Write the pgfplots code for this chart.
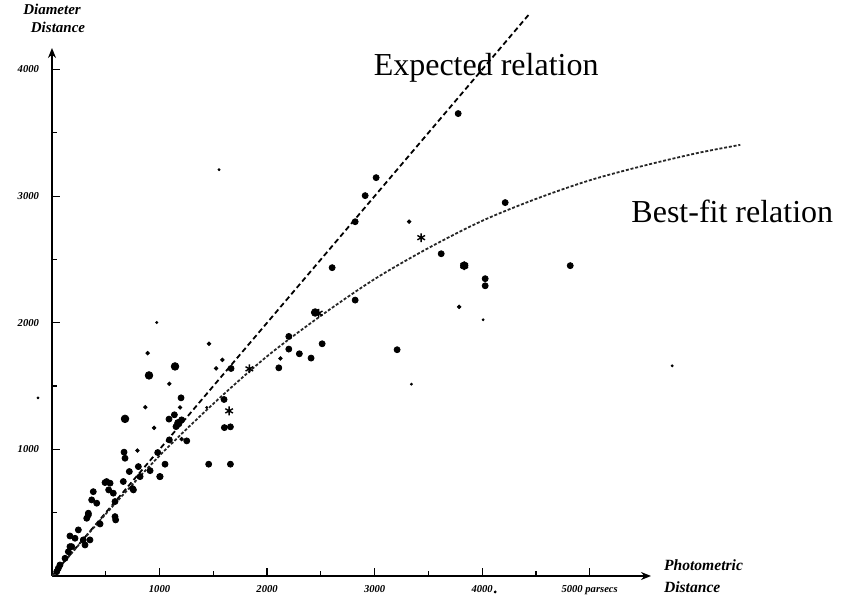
\documentclass[border=0pt]{standalone}
\usepackage{fontspec}
\setmainfont{Liberation Serif}
\usepackage{pgfplots}
\usepackage{pgfplotstable}
\pgfplotsset{compat=1.18}
\usetikzlibrary{arrows.meta,calc}

% photometric distance (x) vs diameter distance (y), parsecs
\pgfplotstableread{
x y
3833 2451
2447 2081
902 1584
1144 1655
679 1241
1175 1207
}\bigdots

\pgfplotstableread{
x y
3777 3652
3014 3146
2912 3004
2819 2798
2605 2435
4214 2949
3619 2545
4028 2348
4028 2292
4819 2451
3209 1787
2819 2179
2202 1892
2202 1792
2300 1755
2409 1721
2512 1834
2109 1644
1200 1407
1600 1394
1603 1172
1659 1178
1457 883
1659 883
1088 1239
1138 1273
1153 1180
1206 1233
1253 1067
1091 1075
983 975
1051 883
1002 785
912 832
670 978
679 930
719 825
750 690
803 864
819 785
493 738
540 733
527 680
570 654
663 746
384 666
369 601
416 575
586 588
586 469
592 443
447 411
338 496
323 456
245 364
167 316
214 298
291 285
353 285
307 245
167 232
44 34
59 61
508 746
338 482
152 192
183 232
121 140
74 87
757 680
1005 785
1665 1639
}\dots

\pgfplotstableread{
x y
3786 2126
1460 1834
890 1760
1584 1707
1526 1639
1091 1518
868 1333
949 1170
1191 1331
794 991
2124 1718
3321 2798
1206 1081
}\smalldots

\pgfplotstableread{
x y
974 2002
4009 2024
3342 1515
5767 1660
-130 1407
4121 -126
1553 3209
1439 1331
}\tinydots

\pgfplotstableread{
x y
3433 2672
1647 1304
1835 1636
2480 2075
3833 2451
}\stars

\pgfplotstableread{
x y
0 0
500 490
1000 950
1500 1360
2000 1735
2500 2055
3000 2345
3500 2590
4000 2805
4500 2978
5000 3125
5500 3240
6000 3340
6400 3405
}\bestfit

\begin{document}
\begin{tikzpicture}
\begin{axis}[
    scale only axis,
    width=299.5pt, height=264pt,
    xmin=0, xmax=5570, ymin=0, ymax=4170,
    axis lines=left,
    axis line style={line width=0.8pt, -{Stealth[length=5pt,width=4pt]}},
    clip=false,
    scaled ticks=false,
    xtick={1000,2000,3000,4000,5000},
    xticklabels={1000,2000,3000,4000,5000 parsecs},
    ytick={1000,2000,3000,4000},
    yticklabels={1000,2000,3000,4000},
    minor xtick={500,1500,2500,3500,4500},
    minor ytick={500,1500,2500,3500},
    tick align=inside,
    major tick length=4pt, minor tick length=2.5pt,
    every tick/.style={black, line width=0.6pt},
    tick label style={font=\fontsize{5.3}{6}\selectfont\itshape\bfseries},
    xticklabel style={yshift=-1pt},
    yticklabel style={xshift=-3pt},
]
\addplot[black, line width=0.9pt, dash pattern=on 2.6pt off 1.6pt]
  coordinates {(0,0) (4430,4430)};
\addplot[black!85, line width=0.9pt, dash pattern=on 1.5pt off 0.9pt, smooth]
  table {\bestfit};

\addplot[only marks, mark=*, mark size=1.9pt, black] table {\bigdots};
\addplot[only marks, mark=*, mark size=1.5pt, black] table {\dots};
\addplot[only marks, mark=*, mark size=0.9pt, black] table {\smalldots};
\addplot[only marks, mark=*, mark size=0.5pt, black] table {\tinydots};
\addplot[only marks, mark=asterisk, mark size=2.2pt, black, line width=0.7pt] table {\stars};

\node[font=\fontsize{16}{18}\selectfont] at (axis cs:4037,4016) {Expected relation};
\node[font=\fontsize{16}{18}\selectfont] at (axis cs:6326,2877) {Best-fit relation};

\node[anchor=south, align=center, font=\fontsize{7.5}{9}\selectfont\itshape\bfseries, yshift=4pt]
  at (axis cs:0,4170) {Diameter\\\hspace{6pt}Distance};
\node[anchor=west, align=left, font=\fontsize{7.8}{11}\selectfont\itshape\bfseries, xshift=3pt]
  at (axis cs:5570,0) {Photometric\\Distance};

\coordinate (O) at (axis cs:0,0);
\end{axis}
\pgfresetboundingbox
\path[use as bounding box] ($(O)+(-26pt,-11pt)$) rectangle ($(O)+(399pt,288pt)$);
\end{tikzpicture}
\end{document}
